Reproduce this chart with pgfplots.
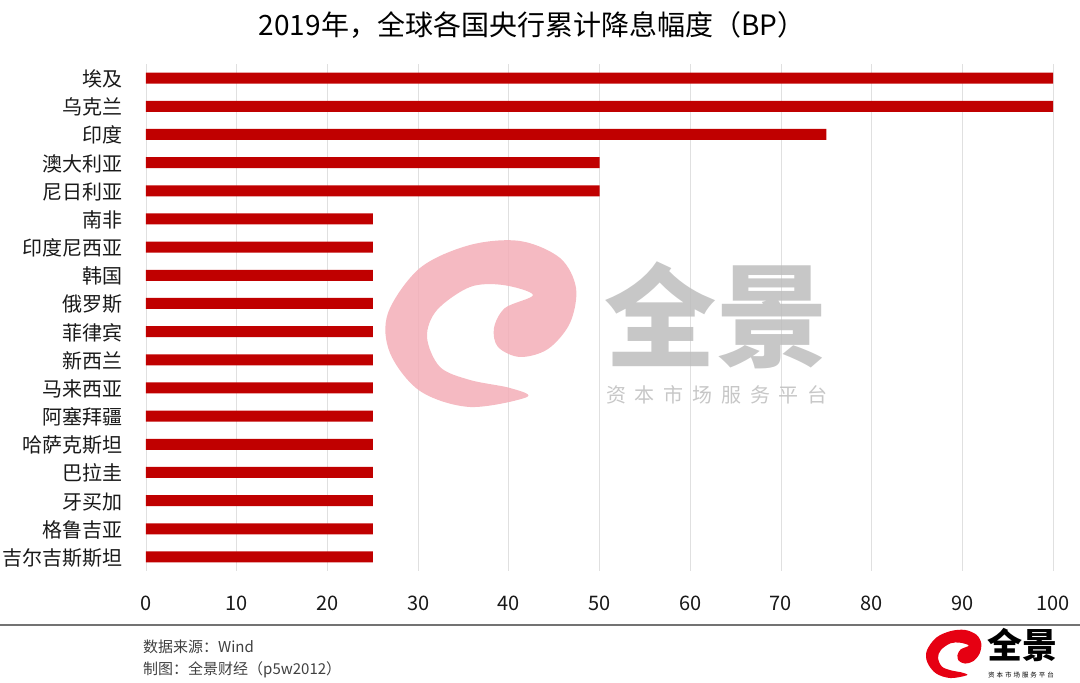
\documentclass[border=0pt]{standalone}
\usepackage{fontspec}
\setmainfont{Noto Sans CJK SC}
\newfontfamily\wmfont[LetterSpace=44]{Noto Sans CJK SC}
\newfontfamily\logosmall[LetterSpace=30]{Noto Sans CJK SC}
\usepackage{pgfplots}
\pgfplotsset{compat=1.18}
\definecolor{barred}{HTML}{C00000}
\definecolor{wmpink}{HTML}{F3AEB7}
\definecolor{wmgray}{HTML}{BDBDBD}
\definecolor{logored}{HTML}{E60012}

% brush swirl of the logo, drawn around its centre
\newcommand{\swirl}[1]{%
  \fill[#1] plot[smooth cycle, tension=0.55] coordinates {
    (45,-73) (-12,-83) (-62,-67) (-92,-29) (-94,11) (-62,56) (-12,79)
    (38,83) (78,66) (94,36) (88,1) (66,-25) (38,-33) (16,-23) (12,-4)
    (23,16) (51,29) (21,39) (-12,37) (-45,14) (-55,-13) (-42,-43)
    (-12,-56) (28,-64)};}

\begin{document}
\begin{tikzpicture}[x=1pt,y=1pt]
\useasboundingbox (0,0) rectangle (1080,683);

\node[anchor=base,inner sep=0pt] at (532,647)
  {\fontsize{28}{28}\selectfont 2019年，全球各国央行累计降息幅度（BP）};

\begin{axis}[
    at={(146pt,112pt)}, anchor=south west,
    scale only axis, width=907pt, height=507pt,
    xbar, bar width=11pt,
    xmin=0, xmax=100, ymin=-0.5, ymax=17.5,
    y dir=reverse,
    axis line style={draw=none},
    major tick style={draw=none},
    xmajorgrids, grid style={draw=black!12, line width=0.8pt},
    xtick={0,10,...,100},
    ytick={0,...,17},
    yticklabels={埃及,乌克兰,印度,澳大利亚,尼日利亚,南非,印度尼西亚,韩国,俄罗斯,菲律宾,新西兰,马来西亚,阿塞拜疆,哈萨克斯坦,巴拉圭,牙买加,格鲁吉亚,吉尔吉斯斯坦},
    /pgf/number format/assume math mode=true,
    tick label style={font=\fontsize{20}{20}\selectfont, text=black!90},
    xticklabel style={anchor=base, inner sep=0pt, yshift=-39pt},
    yticklabel style={anchor=base east, inner sep=0pt, xshift=-19pt, yshift=-8.5pt},
]
\addplot[fill=barred, draw=none] coordinates {
  (100,0) (100,1) (75,2) (50,3) (50,4) (25,5) (25,6) (25,7) (25,8)
  (25,9) (25,10) (25,11) (25,12) (25,13) (25,14) (25,15) (25,16) (25,17)
};
\end{axis}

% watermark, laid over the grid
\begin{scope}[shift={(482,359)}, opacity=0.85]
  \swirl{wmpink}
\end{scope}
\node[anchor=base,text=wmgray,inner sep=0pt,opacity=0.85] at (716,324)
  {\fontsize{112}{112}\selectfont\bfseries 全景};
\node[anchor=base west,text=wmgray,inner sep=0pt,opacity=0.85] at (606,280)
  {\wmfont\fontsize{20}{20}\selectfont 资本市场服务平台};

% footer
\draw[black!55, line width=2pt] (0,58) -- (1080,58);
\node[anchor=base west,inner sep=0pt,text=black!75] at (143,30)
  {\fontsize{15}{15}\selectfont 数据来源：Wind};
\node[anchor=base west,inner sep=0pt,text=black!75] at (143,8)
  {\fontsize{15}{15}\selectfont 制图：全景财经（p5w2012）};

% logo
\begin{scope}[shift={(954,29)}, scale=0.29]
  \swirl{logored}
\end{scope}
\node[anchor=base west,inner sep=0pt] at (987,24)
  {\fontsize{35}{35}\selectfont\bfseries 全景};
\node[anchor=base west,inner sep=0pt] at (988,5)
  {\logosmall\fontsize{6.5}{6.5}\selectfont 资本市场服务平台};
\end{tikzpicture}
\end{document}
